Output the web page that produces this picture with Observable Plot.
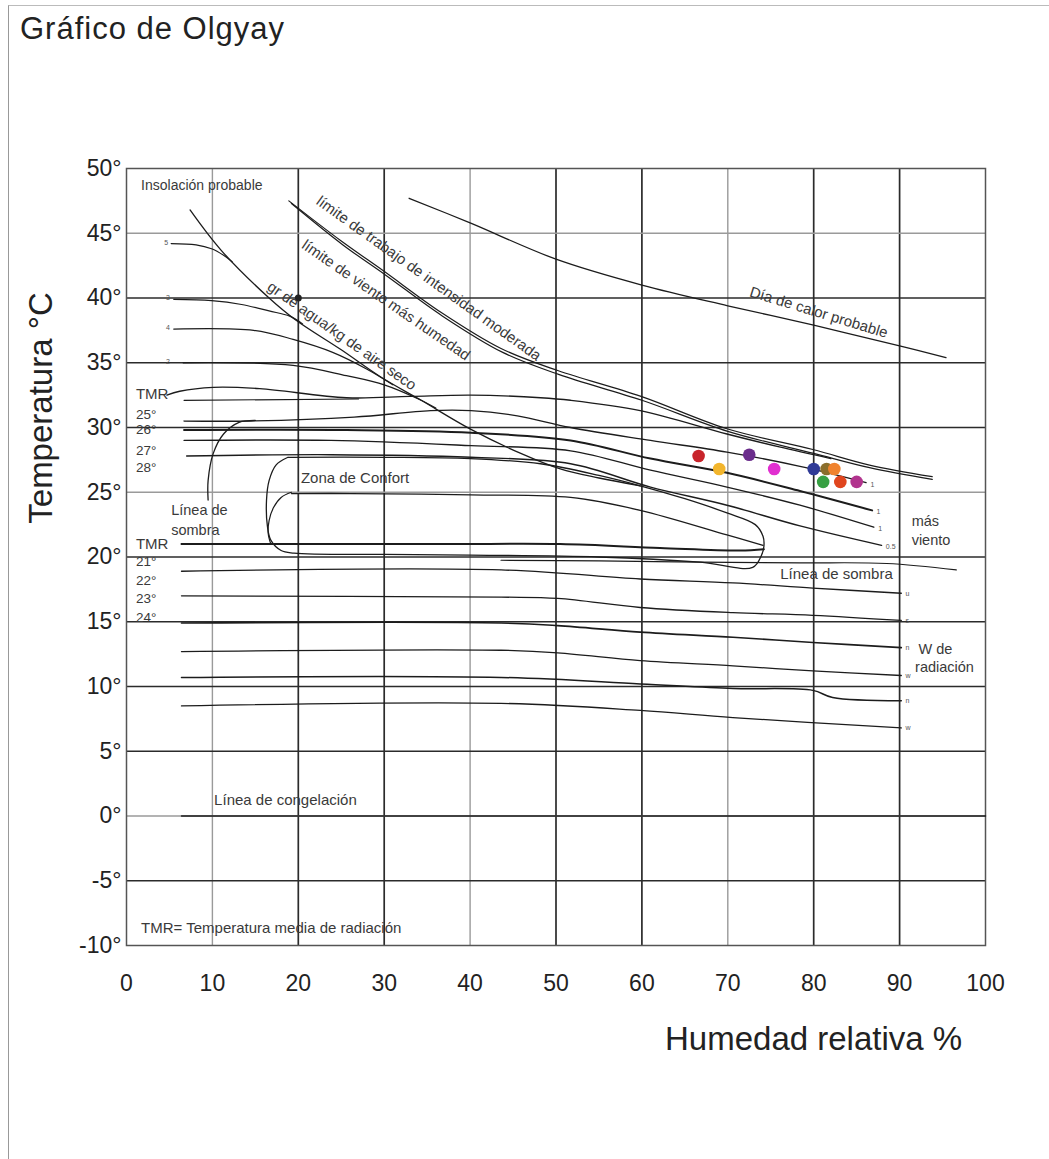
<!DOCTYPE html>
<html><head><meta charset="utf-8">
<script src="https://cdn.jsdelivr.net/npm/d3@7"></script>
<script src="https://cdn.jsdelivr.net/npm/@observablehq/plot@0.6"></script>
<style>
body{margin:0;background:#fff;font-family:"Liberation Sans",Arial,sans-serif;}
#page{position:relative;width:1049px;height:1159px;overflow:hidden;background:#fff}
#frame{position:absolute;left:8px;top:5px;width:1100px;height:1200px;border-left:1.5px solid #999;border-top:1.5px solid #bbb;}
#title{position:absolute;left:20px;top:11px;font-size:31px;letter-spacing:1px;color:#222;white-space:nowrap}
#ylab{position:absolute;left:41px;top:408px;transform:translate(-50%,-50%) rotate(-90deg);font-size:33px;white-space:nowrap;color:#222}
#xlab{position:absolute;left:665px;top:1020px;font-size:33px;color:#222;white-space:nowrap}
#chart{position:absolute;left:0;top:0;}
</style></head>
<body>
<div id="page">
<div id="frame"></div>
<div id="chart"></div>
<div id="title">Gráfico de Olgyay</div>
<div id="ylab">Temperatura °C</div>
<div id="xlab">Humedad relativa %</div>
</div>
<script>
// ---- axis ticks ----
const xTicks = [0,10,20,30,40,50,60,70,80,90,100];
const yTicks = [-10,-5,0,5,10,15,20,25,30,35,40,45,50];
const gridXDark = [20,30,50,60,80,90];
const gridXLight = [10,40,70];
const gridYDark = [-5,5,10,15,20,30,35,40];
const gridYLight = [0,25,45];

// ---- curves [humedad %, temperatura °C] ----
const diaCalor = [[32.9,47.7],[40,45.8],[50,43.0],[60,41.0],[70,39.4],[80,37.9],[90,36.3],[95.4,35.4]];
const trabajoA = [[18.9,47.5],[25,44.4],[29.9,42.1],[36.6,38.9],[43.6,36.1],[50.2,34.4],[59.9,32.4],[69.9,29.9],[79.9,28.3],[86.5,27.1],[93.8,26.2]];
const trabajoB = [[19.2,47.3],[25.2,44.1],[30.1,41.8],[36.8,38.6],[43.8,35.8],[50.3,34.1],[60,32.1],[70,29.7],[80,28.0],[86.5,26.9],[93.8,26.0]];
const aireSeco = [[7.4,46.8],[11.0,43.7],[16.6,40.0],[19.7,38.3],[25,36.0],[29.6,33.9],[34.3,32.1],[40.1,29.85],[45.9,28.0],[50.5,26.8],[55,26.1],[59.8,25.5]];
const curva5 = [[5.2,44.2],[8.1,44.1],[9.9,43.8],[11.3,43.3],[12.3,42.8]];
const curva3 = [[5.5,39.9],[9.9,39.8],[13.4,39.5],[16.6,39.0],[19,38.6],[20.5,38.0]];
const curva4 = [[5.5,37.6],[14.8,37.5],[19.4,36.8],[24,35.8],[28,34.5],[31,33.3]];
const curva2 = [[6.6,35.0],[19.4,34.8],[25.6,34.0],[30,33.3],[34,32.2],[36,31.5]];
const tmrCurva = [[4.7,32.5],[6.2,32.8],[10.1,33.1],[15.5,33.0],[25.6,32.3],[33,32.4],[40.1,32.5],[48.2,32.3],[51.7,32.1],[59.8,31.3],[69.9,29.5],[76,28.5],[82,27.6]];
const tmr25 = [[6.7,32.1],[27,32.2]];
const tmr26 = [[6.7,30.5],[14.5,30.5],[26.5,30.8],[35.4,31.3],[40.1,31.3],[45.5,30.9],[51.7,30.0],[61,29.0],[69.9,28.1],[78.4,27.0],[86.1,25.75]];
const tmr26b = [[6.7,29.8],[25.6,29.8],[40.1,29.6],[51.7,29.0],[61,27.6],[69.9,26.5],[78.4,25.1],[86.8,23.6]];
const tmr27 = [[6.7,29.0],[23.8,29.0],[40.1,28.6],[51.7,28.2],[61,26.7],[69.9,25.4],[78.4,24.0],[87.0,22.3]];
const tmr28 = [[7.0,27.8],[23.8,27.9],[40.1,27.7],[51.7,27.2],[61,25.4],[69.9,24.0],[78.4,22.4],[87.9,20.9]];
const confortExt = [[18.8,27.7],[30,27.7],[40,27.6],[48.2,27.2],[55,26.3],[59.8,25.5],[65,24.5],[69.9,23.4],[73.2,22.5],[74.1,21.6],[74.2,20.8],[73.9,20.1],[72.9,19.2],[66.8,19.6],[55,20.0],[40,20.15],[30,20.2],[19.5,20.3],[18,20.5],[16.8,21.3],[16.4,22.4],[16.3,24.4],[16.6,25.9],[17.4,27.1],[18.8,27.7]];
const confortInt = [[19.2,24.9],[26.1,24.9],[40.1,24.8],[51.7,24.6],[59.8,23.6],[69.9,21.7],[74.1,20.9]];
const confortArco = [[19.2,25.0],[18,24.6],[17.1,23.8],[16.6,22.8],[16.5,21.8],[16.8,21.0]];
const tmr21 = [[6.4,21.0],[20.3,21.0],[37.7,21.0],[50.5,21.0],[62.1,20.7],[71.4,20.5],[74.2,20.6]];
const sombraDer = [[43.6,19.75],[55,19.7],[66.8,19.6],[78.4,19.55],[88.5,19.5],[96.6,19.0]];
const sombraIzq = [[15.0,30.55],[13.1,30.4],[11.3,29.5],[10.1,28.0],[9.5,25.9],[9.5,24.4]];
const rad1 = [[6.4,18.9],[43.6,19.0],[59.8,18.3],[70.6,18.0],[79.9,17.6],[90.2,17.2]];
const rad2 = [[6.4,17.0],[43.6,16.9],[50.2,16.8],[59.8,16.1],[70.6,15.7],[79.9,15.5],[90.2,15.1]];
const rad3 = [[6.4,14.9],[43.6,14.9],[50.2,14.7],[59.8,14.2],[70.6,13.8],[79.9,13.4],[90.2,13.0]];
const rad4 = [[6.4,12.7],[43.6,12.8],[50.2,12.6],[59.8,12.0],[70.6,11.6],[79.9,11.2],[90.2,10.85]];
const rad5 = [[6.4,10.7],[43.6,10.7],[59.8,10.2],[70.6,9.85],[79.9,9.7],[82.2,9.15],[90.2,8.9]];
const rad6 = [[6.4,8.5],[43.6,8.7],[59.8,8.15],[70.6,7.6],[90.2,6.8]];
const congelacion = [[6.4,0],[100,0]];
const nudo = [[20,40]];

// ---- climate points ----
const puntosHum = [66.6,69.0,72.5,75.4,80.0,81.5,82.4,81.1,83.1,85.0];
const puntosTemp = [27.8,26.8,27.9,26.8,26.8,26.8,26.8,25.8,25.8,25.8];
const puntosColor = ["#c8242b","#f2b52c","#6b2d8c","#e12fd0","#2f3a96","#8a6e2c","#f0832e","#37a043","#e0461e","#b2348e"];

// ---- annotations ----
const notas = [
  {s:"Insolación probable", h:1.7, t:48.7, r:0, f:14},
  {s:"límite de trabajo de intensidad moderada", h:22.3, t:47.6, r:35.5, f:15},
  {s:"límite de viento más humedad", h:20.6, t:44.2, r:34.5, f:15},
  {s:"gr de agua/kg de aire seco", h:16.6, t:41.0, r:35, f:15},
  {s:"Día de calor probable", h:72.6, t:40.5, r:17, f:15},
  {s:"Zona de Confort", h:20.3, t:26.1, r:0, f:15},
  {s:"Línea de", h:5.2, t:23.6, r:0, f:14.5},
  {s:"sombra", h:5.2, t:22.05, r:0, f:14.5},
  {s:"TMR", h:1.1, t:32.6, r:0, f:15},
  {s:"25°", h:1.1, t:31.0, r:0, f:13.5},
  {s:"26°", h:1.1, t:29.8, r:0, f:13.5},
  {s:"27°", h:1.1, t:28.2, r:0, f:13.5},
  {s:"28°", h:1.1, t:26.9, r:0, f:13.5},
  {s:"TMR", h:1.1, t:21.0, r:0, f:15},
  {s:"21°", h:1.1, t:19.65, r:0, f:13.5},
  {s:"22°", h:1.1, t:18.2, r:0, f:13.5},
  {s:"23°", h:1.1, t:16.8, r:0, f:13.5},
  {s:"24°", h:1.1, t:15.3, r:0, f:13.5},
  {s:"más", h:91.4, t:22.75, r:0, f:14.5},
  {s:"viento", h:91.4, t:21.3, r:0, f:14.5},
  {s:"Línea de sombra", h:76.1, t:18.7, r:0, f:15},
  {s:"W de", h:92.2, t:12.9, r:0, f:14.5},
  {s:"radiación", h:91.8, t:11.5, r:0, f:14.5},
  {s:"Línea de congelación", h:10.2, t:1.2, r:0, f:15},
  {s:"TMR= Temperatura media de radiación", h:1.7, t:-8.7, r:0, f:15}
];
const marcas = [
  {s:"5", h:4.4, t:44.3}, {s:"3", h:4.6, t:40.0}, {s:"4", h:4.6, t:37.7}, {s:"2", h:4.6, t:35.1},
  {s:"1", h:86.6, t:25.6}, {s:"1", h:87.3, t:23.5}, {s:"1", h:87.5, t:22.2}, {s:"0.5", h:88.4, t:20.8},
  {s:"u", h:90.7, t:17.2}, {s:"s", h:90.7, t:15.1}, {s:"n", h:90.7, t:13.0},
  {s:"w", h:90.7, t:10.85}, {s:"n", h:90.7, t:8.9}, {s:"w", h:90.7, t:6.8}
];

const curvas = [
  [diaCalor,1.3],[trabajoA,1.2],[trabajoB,1.2],[aireSeco,1.3],[curva5,1.2],[curva3,1.2],[curva4,1.2],[curva2,1.3],
  [tmrCurva,1.4],[tmr25,1.2],[tmr26,1.3],[tmr26b,2.0],[tmr27,1.3],[tmr28,1.4],
  [confortExt,1.3],[confortInt,1.3],[confortArco,1.2],[tmr21,2.0],[sombraDer,1.2],[sombraIzq,1.3],
  [rad1,1.3],[rad2,1.3],[rad3,1.6],[rad4,1.3],[rad5,1.5],[rad6,1.3],[congelacion,1.5]
];

const puntos = puntosHum.map((h,i)=>({h, t:puntosTemp[i], c:puntosColor[i]}));

const chart = Plot.plot({
  width: 1049, height: 1100,
  marginTop: 168, marginLeft: 126, marginRight: 64, marginBottom: 155,
  x: {domain:[0,100]},
  y: {domain:[-10,50]},
  color: {type:"identity"},
  style: {fontFamily:"'Liberation Sans', Arial, sans-serif", color:"#222", background:"transparent"},
  marks: [
    Plot.ruleX(gridXLight, {stroke:"#9a9a9a", strokeWidth:1.4}),
    Plot.ruleX(gridXDark, {stroke:"#2b2b2b", strokeWidth:1.7}),
    Plot.ruleY(gridYLight, {stroke:"#9a9a9a", strokeWidth:1.4}),
    Plot.ruleY(gridYDark, {stroke:"#2b2b2b", strokeWidth:1.7}),
    Plot.frame({stroke:"#555", strokeWidth:1.5}),
    ...curvas.map(([pts,w]) => Plot.line(pts, {x:d=>d[0], y:d=>d[1], curve:"catmull-rom", stroke:"#1c1c1c", strokeWidth:w})),
    Plot.dot(nudo, {x:d=>d[0], y:d=>d[1], fill:"#222", r:3.5}),
    Plot.dot(puntos, {x:"h", y:"t", fill:"c", r:6.3}),
    Plot.text(notas, {x:"h", y:"t", text:"s", rotate:"r", fontSize:"f", textAnchor:"start", fill:"#3a3a3a"}),
    Plot.text(marcas, {x:"h", y:"t", text:"s", fontSize:7, textAnchor:"start", fill:"#555"}),
    Plot.axisX({ticks:xTicks, tickSize:0, tickPadding:29, fontSize:23, label:null, tickFormat:d=>String(d)}),
    Plot.axisY({ticks:yTicks, tickSize:0, tickPadding:5, fontSize:23, label:null, tickFormat:d=>d+"°"})
  ]
});
document.getElementById("chart").appendChild(chart);
</script>
</body></html>
